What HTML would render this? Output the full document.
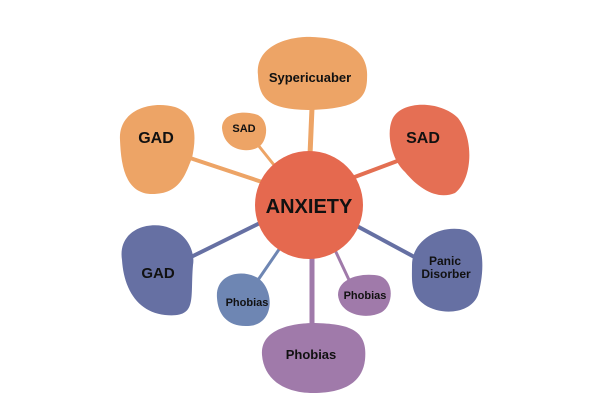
<!DOCTYPE html>
<html><head><meta charset="utf-8"><style>body{margin:0;background:#fff}svg{display:block}text{font-family:"Liberation Sans",Arial,sans-serif;font-weight:bold;fill:#111;text-anchor:middle}</style></head>
<body>
<svg width="600" height="420" viewBox="0 0 600 420" xmlns="http://www.w3.org/2000/svg">
<g stroke-linecap="round" fill="none">
<path d="M312 108 L310 155" stroke="#eda466" stroke-width="5"/>
<path d="M190 158 L262 182" stroke="#eda466" stroke-width="4"/>
<path d="M258 145 L278 170" stroke="#eda466" stroke-width="3"/>
<path d="M400 160 L352 178" stroke="#e36f52" stroke-width="4"/>
<path d="M193 256 L262 222" stroke="#6670a3" stroke-width="4"/>
<path d="M258 280 L280 248" stroke="#6e86b3" stroke-width="3"/>
<path d="M312 250 L312 330" stroke="#a07aaa" stroke-width="5"/>
<path d="M350 282 L335 250" stroke="#a07aaa" stroke-width="3"/>
<path d="M420 260 L355 225" stroke="#6670a3" stroke-width="4"/>
</g>
<path d="M258 75 C255 45 290 36 312 37 C345 38 370 50 367 80 C366 100 355 108 312 110 C270 110 259 100 258 75Z" fill="#eda466"/>
<path d="M120 140 C118 112 148 100 175 107 C198 115 196 140 192 158 C185 175 180 195 150 194 C125 192 121 165 120 140Z" fill="#eda466"/>
<path d="M222 128 C222 112 245 110 258 115 C270 122 267 140 260 146 C250 154 224 152 222 128Z" fill="#eda466"/>
<path d="M392 120 C400 100 440 100 458 118 C475 140 472 180 455 193 C438 200 420 190 405 172 C392 160 386 135 392 120Z" fill="#e56f54"/>
<path d="M122 260 C118 235 140 222 163 226 C190 232 195 255 193 265 C190 300 198 318 165 315 C138 312 124 290 122 260Z" fill="#6670a3"/>
<path d="M217 298 C215 275 240 268 258 278 C275 290 275 325 248 326 C228 327 218 315 217 298Z" fill="#6e86b3"/>
<path d="M262 355 C260 330 290 323 315 323 C350 324 368 330 365 360 C362 385 340 393 313 393 C285 393 264 380 262 355Z" fill="#a07aaa"/>
<path d="M338 295 C338 278 362 272 380 276 C395 282 393 305 382 312 C368 320 340 316 338 295Z" fill="#a07aaa"/>
<path d="M412 265 C412 240 440 224 465 230 C487 238 484 275 478 295 C470 315 440 315 425 305 C410 295 412 280 412 265Z" fill="#6670a3"/>
<circle cx="309" cy="205" r="54" fill="#e5694f"/>
<text x="310" y="82" font-size="13">Sypericuaber</text>
<text x="156" y="143" font-size="16">GAD</text>
<text x="244" y="132" font-size="11">SAD</text>
<text x="423" y="143" font-size="16">SAD</text>
<text x="309" y="213" font-size="20">ANXIETY</text>
<text x="158" y="278" font-size="15">GAD</text>
<text x="247" y="306" font-size="11">Phobias</text>
<text x="311" y="359" font-size="13">Phobias</text>
<text x="365" y="299" font-size="11">Phobias</text>
<text x="445" y="265" font-size="12">Panic</text>
<text x="446" y="278" font-size="12">Disorber</text>
</svg>
</body></html>
